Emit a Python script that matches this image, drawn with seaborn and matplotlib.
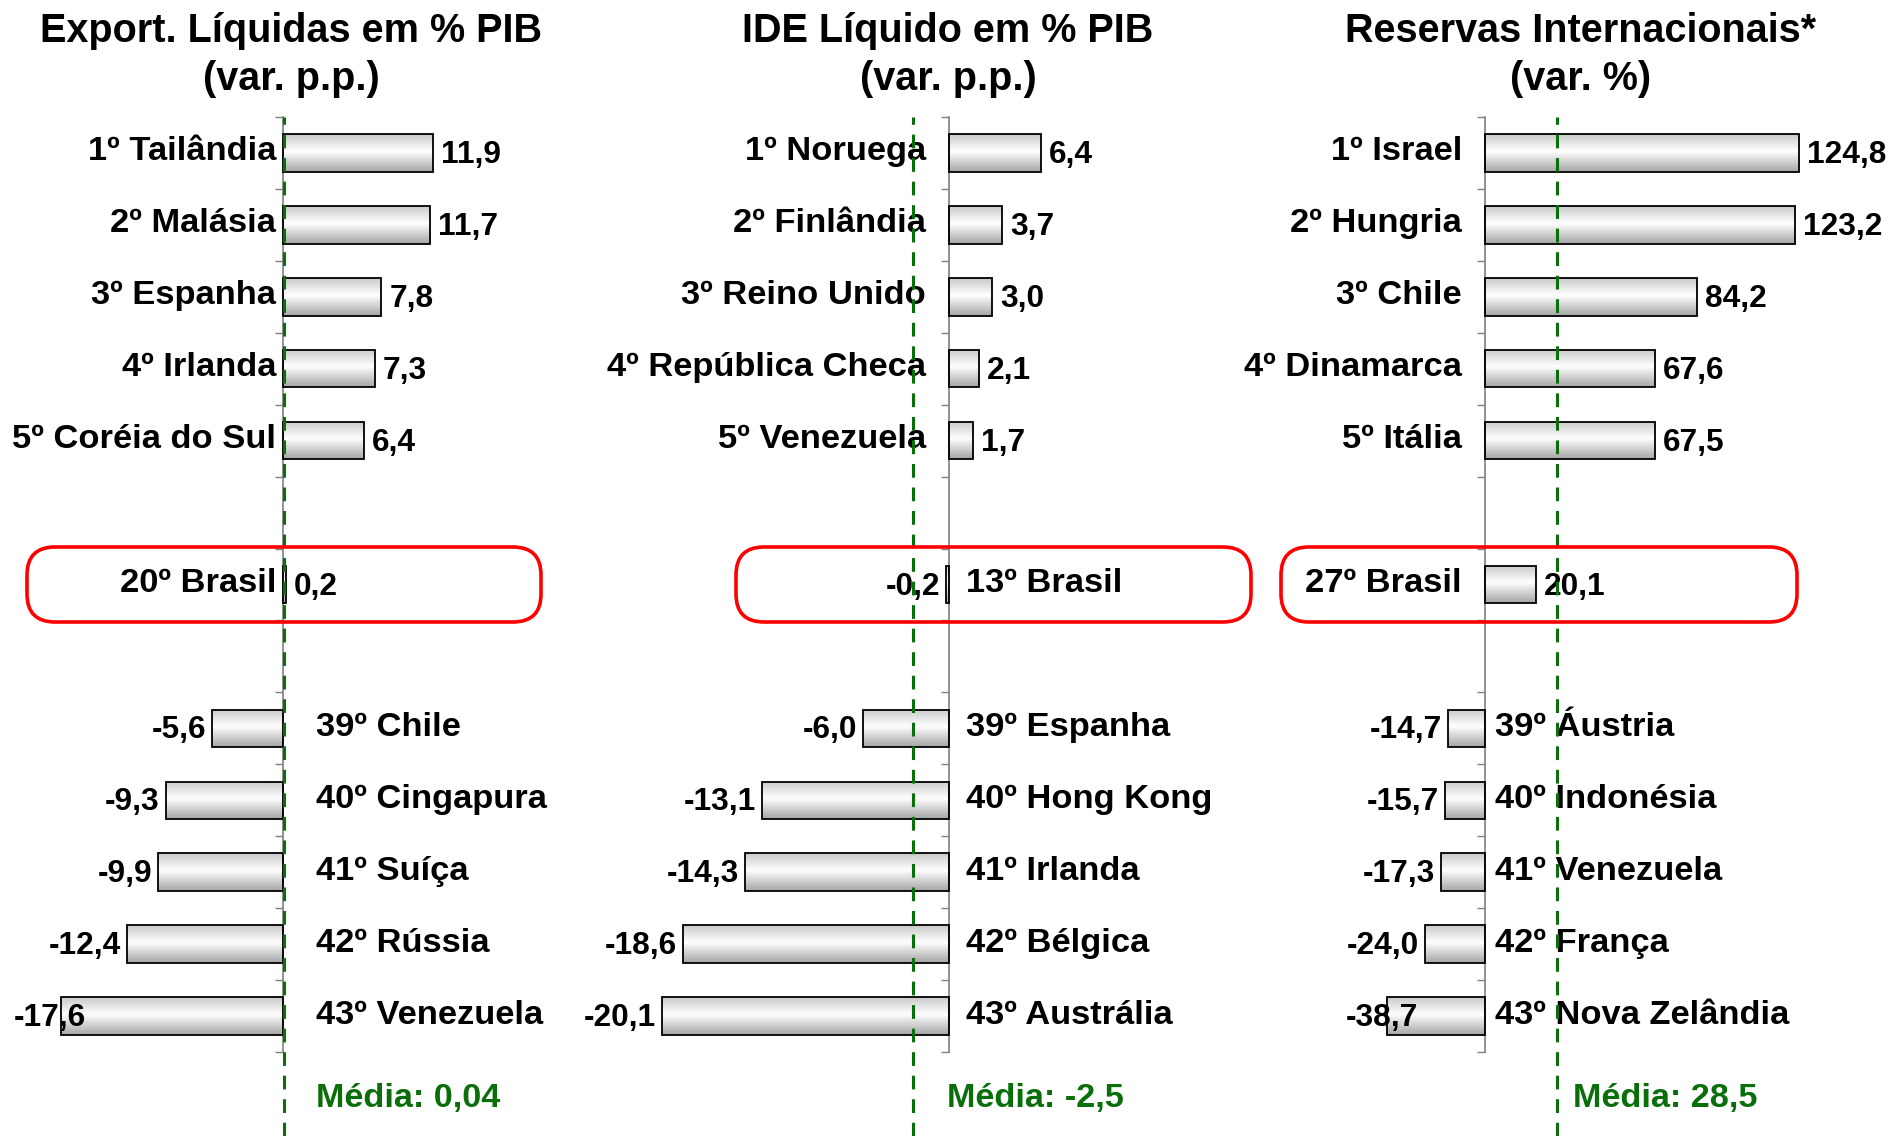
import numpy as np
import pandas as pd
import matplotlib
matplotlib.use("Agg")
import matplotlib.pyplot as plt
import seaborn as sns
from matplotlib.colors import LinearSegmentedColormap
from matplotlib.patches import FancyBboxPatch

# ---------------------------------------------------------------
# dados
# ---------------------------------------------------------------
titulos = ["Export. Líquidas em % PIB\n(var. p.p.)",
           "IDE Líquido em % PIB\n(var. p.p.)",
           "Reservas Internacionais*\n(var. %)"]

exp_topo = ["1º Tailândia", "2º Malásia", "3º Espanha", "4º Irlanda", "5º Coréia do Sul"]
exp_topo_val = [11.9, 11.7, 7.8, 7.3, 6.4]
exp_brasil = "20º Brasil"
exp_brasil_val = 0.2
exp_base = ["39º Chile", "40º Cingapura", "41º Suíça", "42º Rússia", "43º Venezuela"]
exp_base_val = [-5.6, -9.3, -9.9, -12.4, -17.6]
exp_media = 0.04

ide_topo = ["1º Noruega", "2º Finlândia", "3º Reino Unido", "4º República Checa", "5º Venezuela"]
ide_topo_val = [6.4, 3.7, 3.0, 2.1, 1.7]
ide_brasil = "13º Brasil"
ide_brasil_val = -0.2
ide_base = ["39º Espanha", "40º Hong Kong", "41º Irlanda", "42º Bélgica", "43º Austrália"]
ide_base_val = [-6.0, -13.1, -14.3, -18.6, -20.1]
ide_media = -2.5

res_topo = ["1º Israel", "2º Hungria", "3º Chile", "4º Dinamarca", "5º Itália"]
res_topo_val = [124.8, 123.2, 84.2, 67.6, 67.5]
res_brasil = "27º Brasil"
res_brasil_val = 20.1
res_base = ["39º Áustria", "40º Indonésia", "41º Venezuela", "42º França", "43º Nova Zelândia"]
res_base_val = [-14.7, -15.7, -17.3, -24.0, -38.7]
res_media = 28.5

medias = [exp_media, ide_media, res_media]
medias_txt = ["Média: 0,04", "Média: -2,5", "Média: 28,5"]

paineis = [
    (exp_topo, exp_topo_val, exp_brasil, exp_brasil_val, exp_base, exp_base_val),
    (ide_topo, ide_topo_val, ide_brasil, ide_brasil_val, ide_base, ide_base_val),
    (res_topo, res_topo_val, res_brasil, res_brasil_val, res_base, res_base_val),
]

# ---------------------------------------------------------------
# layout (pixels da figura 1890x1136)
# ---------------------------------------------------------------
W, H = 1890, 1136
ax_px = [(0, 630), (630, 1260), (1260, 1890)]
eixo_px = [283, 949, 1485]
escala = [12.6, 14.3, 2.52]          # px por unidade
topo_px, base_px = 117, 1052
off_esq = [-7, -23, -23]             # rótulos à esquerda do eixo
off_dir = [33, 17, 10]               # rótulos à direita do eixo
clamp_neg = [-15.2, -100, -24.2]     # limite dos rótulos negativos
caixa_off = [(-256, 258), (-213, 302), (-204, 312)]
media_dx = [32, 34, 16]
titulo_x = [291, 948, 1581]

verde = "#0a6e0a"

sns.set_theme(style="white")
plt.rcParams["font.family"] = ["Liberation Sans", "DejaVu Sans"]
plt.rcParams["font.weight"] = "bold"
plt.rcParams["text.color"] = "black"

fig = plt.figure(figsize=(W / 100, H / 100), dpi=100)

grad = np.linspace(0, 1, 64).reshape(-1, 1)
cmap = LinearSegmentedColormap.from_list(
    "barra", [(0, "#c9c9c9"), (0.45, "#ffffff"), (1, "#a6a6a6")])


def fmt(v):
    return f"{v:.1f}".replace(".", ",")


for k, (topo, tv, bra, bv, base, bsv) in enumerate(paineis):
    x0, x1 = ax_px[k]
    ax = fig.add_axes([x0 / W, 1 - base_px / H, (x1 - x0) / W, (base_px - topo_px) / H])

    ordem = topo + [" "] + [bra] + ["  "] + base
    df = pd.DataFrame({"pais": topo + [bra] + base, "valor": tv + [bv] + bsv})
    sns.barplot(data=df, x="valor", y="pais", order=ordem, orient="h",
                color="white", edgecolor="black", linewidth=1.3,
                width=0.52, errorbar=None, ax=ax)

    xlim = ((x0 - eixo_px[k]) / escala[k], (x1 - eixo_px[k]) / escala[k])
    ylim = (len(ordem) - 0.5, -0.5)

    # preenchimento em degradê
    for p in ax.patches:
        w = p.get_width()
        if not np.isfinite(w):
            continue
        bx, by, bh = p.get_x(), p.get_y(), p.get_height()
        im = ax.imshow(grad, extent=[bx, bx + w, by + bh, by], aspect="auto",
                       cmap=cmap, zorder=2, interpolation="bilinear")
        im.set_clip_path(p)
        p.set_facecolor("none")
        p.set_zorder(3)

    ax.set_xlim(*xlim)
    ax.set_ylim(*ylim)
    ax.set_xlabel("")
    ax.set_ylabel("")
    ax.set_xticks([])
    ax.set_yticks(np.arange(len(ordem)))
    ax.set_yticklabels([])
    ax.tick_params(axis="y", which="major", length=0)
    ax.set_yticks(np.arange(-0.5, len(ordem)), minor=True)
    ax.tick_params(axis="y", which="minor", length=6, width=1, color="#808080",
                   direction="out", left=True)
    for s in ["top", "right", "bottom"]:
        ax.spines[s].set_visible(False)
    ax.spines["left"].set_position(("data", 0))
    ax.spines["left"].set_color("#808080")
    ax.spines["left"].set_linewidth(1.2)
    ax.patch.set_alpha(0)

    # rótulos de país e valores
    valores = dict(zip(df["pais"], df["valor"]))
    for i, nome in enumerate(ordem):
        if nome not in valores:
            continue
        v = valores[nome]
        if v >= 0:
            ax.annotate(nome, xy=(0, i), xytext=(off_esq[k], 1), textcoords="offset pixels",
                        ha="right", va="center", fontsize=24.8, fontweight="bold",
                        color="black", annotation_clip=False)
            ax.annotate(fmt(v), xy=(v, i), xytext=(8, -2), textcoords="offset pixels",
                        ha="left", va="center", fontsize=22.8, fontweight="bold",
                        color="black", annotation_clip=False, zorder=5)
        else:
            ax.annotate(nome, xy=(0, i), xytext=(off_dir[k], 1), textcoords="offset pixels",
                        ha="left", va="center", fontsize=24.8, fontweight="bold",
                        color="black", annotation_clip=False)
            ax.annotate(fmt(v), xy=(max(v, clamp_neg[k]), i), xytext=(-6, -2),
                        textcoords="offset pixels", ha="right", va="center",
                        fontsize=22.8, fontweight="bold", color="black",
                        annotation_clip=False, zorder=5)

    # linha da média
    ax.axvline(medias[k], ymin=-(H - base_px) / (base_px - topo_px), ymax=1.0,
               color=verde, linestyle=(0, (4.5, 3.2)), linewidth=2.2,
               clip_on=False, zorder=6)
    ax.annotate(medias_txt[k], xy=(medias[k], 0), xycoords=("data", "axes fraction"),
                xytext=(media_dx[k], -46), textcoords="offset pixels",
                ha="left", va="center", fontsize=24.7, fontweight="bold",
                color=verde, annotation_clip=False)

    # destaque do Brasil
    fig.canvas.draw()
    bi = ordem.index(bra)
    cx, cy = ax.transData.transform((0, bi))
    a, b = caixa_off[k]
    caixa = FancyBboxPatch((cx + a, cy - 37.5), b - a, 75,
                           boxstyle="round,pad=0,rounding_size=28",
                           transform=None, fill=False, edgecolor="#ff0000",
                           linewidth=2.6, zorder=7)
    fig.patches.append(caixa)

    fig.text(titulo_x[k] / W, 1 - 55 / H, titulos[k], ha="center", va="center",
             fontsize=28.5, fontweight="bold", linespacing=1.3, color="black")

fig.savefig("out.png", dpi=100)
